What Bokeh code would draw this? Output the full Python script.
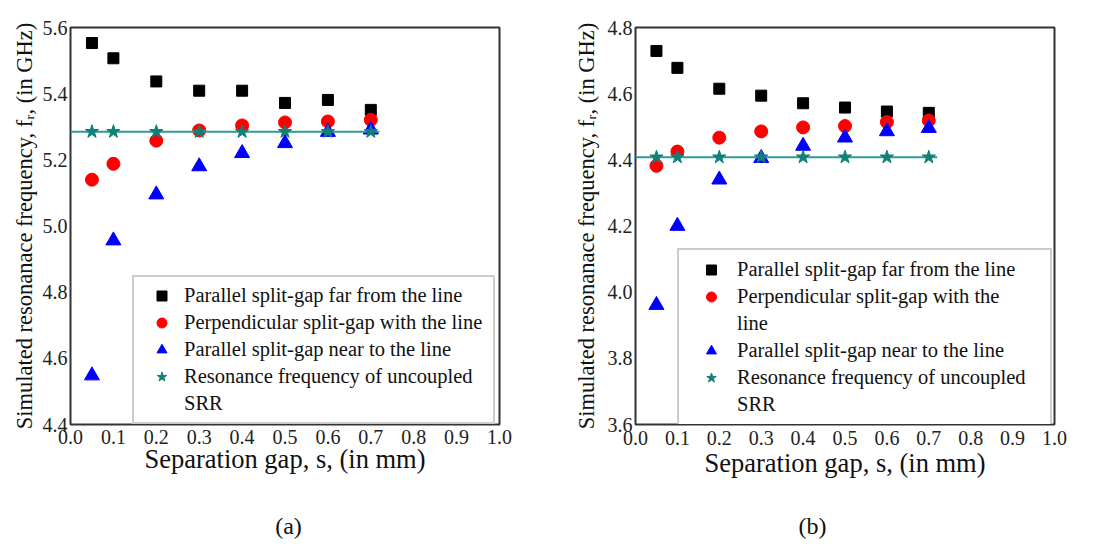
from bokeh.plotting import figure
from bokeh.layouts import row, column
from bokeh.models import (Range1d, FixedTicker, NumeralTickFormatter, Legend,
                          LegendItem, Label)
from bokeh.embed import file_html
from bokeh.resources import INLINE

# ---------------- data ----------------
gap = [0.05, 0.1, 0.2, 0.3, 0.4, 0.5, 0.6, 0.7]

a_far = [5.553, 5.507, 5.437, 5.409, 5.409, 5.372, 5.381, 5.351]
a_perp = [5.140, 5.188, 5.258, 5.289, 5.304, 5.313, 5.316, 5.321]
a_near = [4.548, 4.956, 5.095, 5.180, 5.220, 5.250, 5.284, 5.291]
a_srr = [5.285] * 8
a_fit_x = [0.0, 0.72]
a_fit_y = [5.285, 5.285]

b_far = [4.729, 4.678, 4.615, 4.594, 4.571, 4.558, 4.546, 4.542]
b_perp = [4.382, 4.425, 4.467, 4.486, 4.498, 4.502, 4.514, 4.519]
b_near = [3.961, 4.200, 4.340, 4.405, 4.442, 4.467, 4.486, 4.496]
b_srr = [4.408] * 8
b_fit_x = [0.0, 0.72]
b_fit_y = [4.408, 4.408]

x_ticks = [0.0, 0.1, 0.2, 0.3, 0.4, 0.5, 0.6, 0.7, 0.8, 0.9, 1.0]
a_y_ticks = [4.4, 4.6, 4.8, 5.0, 5.2, 5.4, 5.6]
b_y_ticks = [3.6, 3.8, 4.0, 4.2, 4.4, 4.6, 4.8]

# legend rows ("cont" = continuation line of the previous entry)
labels_a = ["Parallel split-gap far from the line",
            "Perpendicular split-gap with the line",
            "Parallel split-gap near to the line",
            "Resonance frequency of uncoupled", "SRR"]
labels_b = ["Parallel split-gap far from the line",
            "Perpendicular split-gap with the", "line",
            "Parallel split-gap near to the line",
            "Resonance frequency of uncoupled", "SRR"]

FONT = "Liberation Serif"
YTITLE = "Simulated resonanace frequency, f\u1d63, (in GHz)"
XTITLE = "Separation gap, s, (in mm)"


def make_panel(far, perp, near, srr, fit_x, fit_y, yr, yticks, labels, order,
               width, borders, leg_loc, leg_pad, leg_gw, leg_lw,
               ystand, xtstand, xstand):
    bl, br, bt, bb = borders
    p = figure(width=width, height=500, output_backend="svg",
               toolbar_location=None, x_range=Range1d(0, 1.0),
               y_range=Range1d(*yr),
               min_border_left=bl, min_border_right=br,
               min_border_top=bt, min_border_bottom=bb)
    p.grid.visible = False
    p.outline_line_color = "#333333"
    p.outline_line_width = 2
    p.background_fill_color = "white"
    p.border_fill_color = "white"

    for ax in (p.xaxis[0], p.yaxis[0]):
        ax.major_tick_line_color = None
        ax.minor_tick_line_color = None
        ax.axis_line_color = None
        ax.major_tick_out = 0
        ax.major_tick_in = 0
        ax.major_label_text_font = FONT
        ax.major_label_text_font_size = "20px"
        ax.major_label_text_color = "#222222"
        ax.axis_label_text_font = FONT
        ax.axis_label_text_font_style = "normal"
        ax.axis_label_text_color = "#111111"
        ax.formatter = NumeralTickFormatter(format="0.0")

    p.xaxis.ticker = FixedTicker(ticks=x_ticks)
    p.yaxis.ticker = FixedTicker(ticks=yticks)
    p.xaxis.axis_label = XTITLE
    p.xaxis.axis_label_text_font_size = "26.5px"
    p.xaxis.major_label_standoff = xtstand
    p.xaxis.axis_label_standoff = xstand
    p.yaxis.axis_label = YTITLE
    p.yaxis.axis_label_text_font_size = "22.5px"
    p.yaxis.major_label_standoff = 3
    p.yaxis.axis_label_standoff = ystand

    r1 = p.scatter(gap, far, marker="square", size=11, color="black")
    r2 = p.scatter(gap, perp, marker="circle", size=13, color="#ff0000")
    r3 = p.scatter(gap, near, marker="triangle", size=15, color="#0000ff")
    p.line(fit_x, fit_y, line_color="#2e9a96", line_width=2)
    r4 = p.scatter(gap, srr, marker="star", size=14, color="#108078")
    blank = p.scatter([], [], marker="circle", size=1, alpha=0)

    rmap = {"far": r1, "perp": r2, "near": r3, "srr": r4, "cont": blank}
    items = [LegendItem(label=lab, renderers=[rmap[k]])
             for lab, k in zip(labels, order)]
    leg = Legend(items=items, location=leg_loc, padding=leg_pad, margin=0,
                 spacing=0, glyph_width=leg_gw, glyph_height=25,
                 label_standoff=0, label_width=leg_lw, label_height=27,
                 label_text_font=FONT, label_text_font_size="20.5px",
                 label_text_color="#111111",
                 border_line_color="#999999", border_line_width=2,
                 background_fill_alpha=1.0)
    p.add_layout(leg, "center")
    return p


def make_caption(text, cx, width):
    c = figure(width=width, height=45, output_backend="svg",
               toolbar_location=None, x_axis_location=None,
               y_axis_location=None, x_range=Range1d(0, 1),
               y_range=Range1d(0, 1), min_border=0)
    c.grid.visible = False
    c.outline_line_color = None
    c.add_layout(Label(x=cx, y=20, x_units="screen", y_units="screen",
                       text=text, text_font=FONT, text_font_size="24px",
                       text_align="center", text_baseline="middle",
                       text_color="#111111"))
    return c


pa = make_panel(a_far, a_perp, a_near, a_srr, a_fit_x, a_fit_y,
                (4.4, 5.6), a_y_ticks, labels_a,
                ["far", "perp", "near", "srr", "cont"],
                550, (70, 51, 27, 76), (62, 0), 5, 45, 304, 3, 5, -3)
pb = make_panel(b_far, b_perp, b_near, b_srr, b_fit_x, b_fit_y,
                (3.6, 4.8), b_y_ticks, labels_b,
                ["far", "perp", "cont", "near", "srr", "cont"],
                550, (85, 46, 24, 73), (42, -2), 6, 52, 307, 6, 6, 0)

ca = make_caption("(a)", 288, 550)
cb = make_caption("(b)", 262, 550)

layout = column(row(pa, pb), row(ca, cb))
open("out.html", "w").write(file_html(layout, INLINE))
